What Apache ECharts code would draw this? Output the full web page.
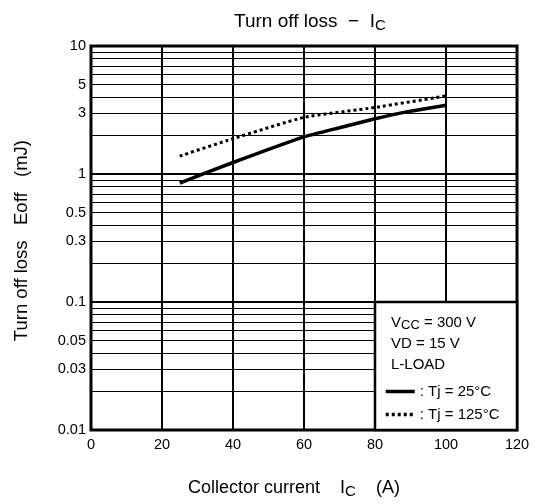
<!DOCTYPE html>
<html>
<head>
<meta charset="utf-8">
<script src="https://cdn.jsdelivr.net/npm/echarts@6/dist/echarts.min.js"></script>
<style>
  html, body { margin: 0; padding: 0; background: #fff; }
  #chart { width: 539px; height: 504px; }
</style>
</head>
<body>
<div id="chart"></div>
<script>
// collector current (A) and turn-off loss (mJ)
const icSolid = [25, 40, 60, 70, 80, 90, 100];
const eoff25 = [0.85, 1.23, 1.95, 2.3, 2.7, 3.1, 3.45];
const icDotted = [25, 40, 60, 80, 100];
const eoff125 = [1.38, 1.89, 2.77, 3.31, 4.07];

const xTicks = [0, 20, 40, 60, 80, 100, 120];
const yLabels = [0.01, 0.03, 0.05, 0.1, 0.3, 0.5, 1, 3, 5, 10];
const yDecades = [0.01, 0.1, 1, 10];
const yMinor = [];
yDecades.slice(0, 3).forEach(d => {
  for (let k = 1; k <= 9; k++) yMinor.push(+(d * k).toPrecision(3));
});
yMinor.push(10);

const fontFamily = '"Liberation Sans", Arial, sans-serif';
const sub = (size, drop) => ({ fontSize: size, fontFamily: fontFamily, color: '#000', padding: [drop, 0, 0, 0] });

const chart = echarts.init(document.getElementById('chart'));

const pairs = (xs, ys) => xs.map((x, i) => [x, ys[i]]);

const option = {
  animation: false,
  textStyle: { fontFamily: fontFamily },
  title: {
    text: 'Turn off loss  \u2212  I{s|C}',
    left: 229,
    top: 6,
    textStyle: {
      fontSize: 19, fontWeight: 'normal', color: '#000', fontFamily: fontFamily,
      rich: { s: sub(15, 7) }
    }
  },
  grid: {
    left: 91, right: 22, top: 46, bottom: 73,
    show: true, borderColor: '#000', borderWidth: 3, backgroundColor: '#fff'
  },
  legend: {
    orient: 'vertical',
    left: 379,
    top: 379,
    itemWidth: 29,
    itemHeight: 14,
    itemGap: 8,
    itemStyle: { opacity: 0 },
    lineStyle: { width: 3.5 },
    textStyle: { fontSize: 15, lineHeight: 14, color: '#000', fontFamily: fontFamily },
    data: [': Tj = 25\u00b0C', ': Tj = 125\u00b0C']
  },
  graphic: [
    { type: 'text', x: 391, y: 323, z: 100, style: { text: 'V{s|CC} = 300 V', font: '15px ' + fontFamily, fill: '#000', verticalAlign: 'middle', rich: { s: sub(13, 4) } } },
    { type: 'text', x: 391, y: 344, z: 100, style: { text: 'VD = 15 V', font: '15px ' + fontFamily, fill: '#000', verticalAlign: 'middle' } },
    { type: 'text', x: 391, y: 365, z: 100, style: { text: 'L-LOAD', font: '15px ' + fontFamily, fill: '#000', verticalAlign: 'middle' } }
  ],
  xAxis: {
    type: 'value',
    min: 0, max: 120, interval: 20,
    axisLine: { show: false },
    axisTick: { show: false },
    axisLabel: { color: '#000', fontSize: 14.5, margin: 7, fontFamily: fontFamily,
      formatter: v => (xTicks.indexOf(v) >= 0 ? String(v) : '') },
    splitLine: { lineStyle: { color: '#000', width: 2 } },
    name: 'Collector current    I{s|C}    (A)    ',
    nameLocation: 'middle',
    nameGap: 47,
    nameTextStyle: { fontSize: 18, color: '#000', fontFamily: fontFamily, rich: { s: sub(15, 7) } }
  },
  yAxis: [{
    type: 'log',
    logBase: 10,
    min: 0.01, max: 10,
    axisLine: { show: false },
    axisTick: { show: false, customValues: yMinor },
    axisLabel: { customValues: yLabels, color: '#000', fontSize: 14.5, margin: 5, fontFamily: fontFamily,
      formatter: v => String(+(+v).toPrecision(2)) },
    splitLine: { lineStyle: { color: '#000', width: 1 } },
    name: 'Turn off loss   Eoff   (mJ) ',
    nameLocation: 'middle',
    nameRotate: 90,
    nameGap: 60,
    nameTextStyle: { fontSize: 18.5, color: '#000', fontFamily: fontFamily }
  }, {
    type: 'log',
    logBase: 10,
    min: 0.01, max: 10,
    position: 'left',
    axisLine: { show: false },
    axisTick: { show: false, customValues: yDecades },
    axisLabel: { show: false },
    splitLine: { lineStyle: { color: '#000', width: 2 } }
  }],
  series: [{
    name: ': Tj = 25\u00b0C',
    type: 'line',
    data: pairs(icSolid, eoff25),
    symbol: 'none',
    smooth: 0.15,
    lineStyle: { color: '#000', width: 3.5 },
    itemStyle: { color: '#000' },
    markArea: {
      silent: true,
      itemStyle: { color: '#fff', borderColor: '#000', borderWidth: 2.5 },
      data: [[{ coord: [80, 0.1] }, { coord: [120, 0.01] }]]
    },
    z: 3
  }, {
    name: ': Tj = 125\u00b0C',
    type: 'line',
    data: pairs(icDotted, eoff125),
    symbol: 'none',
    smooth: 0.15,
    lineStyle: { color: '#000', width: 3, type: [3, 3] },
    itemStyle: { color: '#000' },
    z: 3
  }]
};

chart.setOption(option);
</script>
</body>
</html>
